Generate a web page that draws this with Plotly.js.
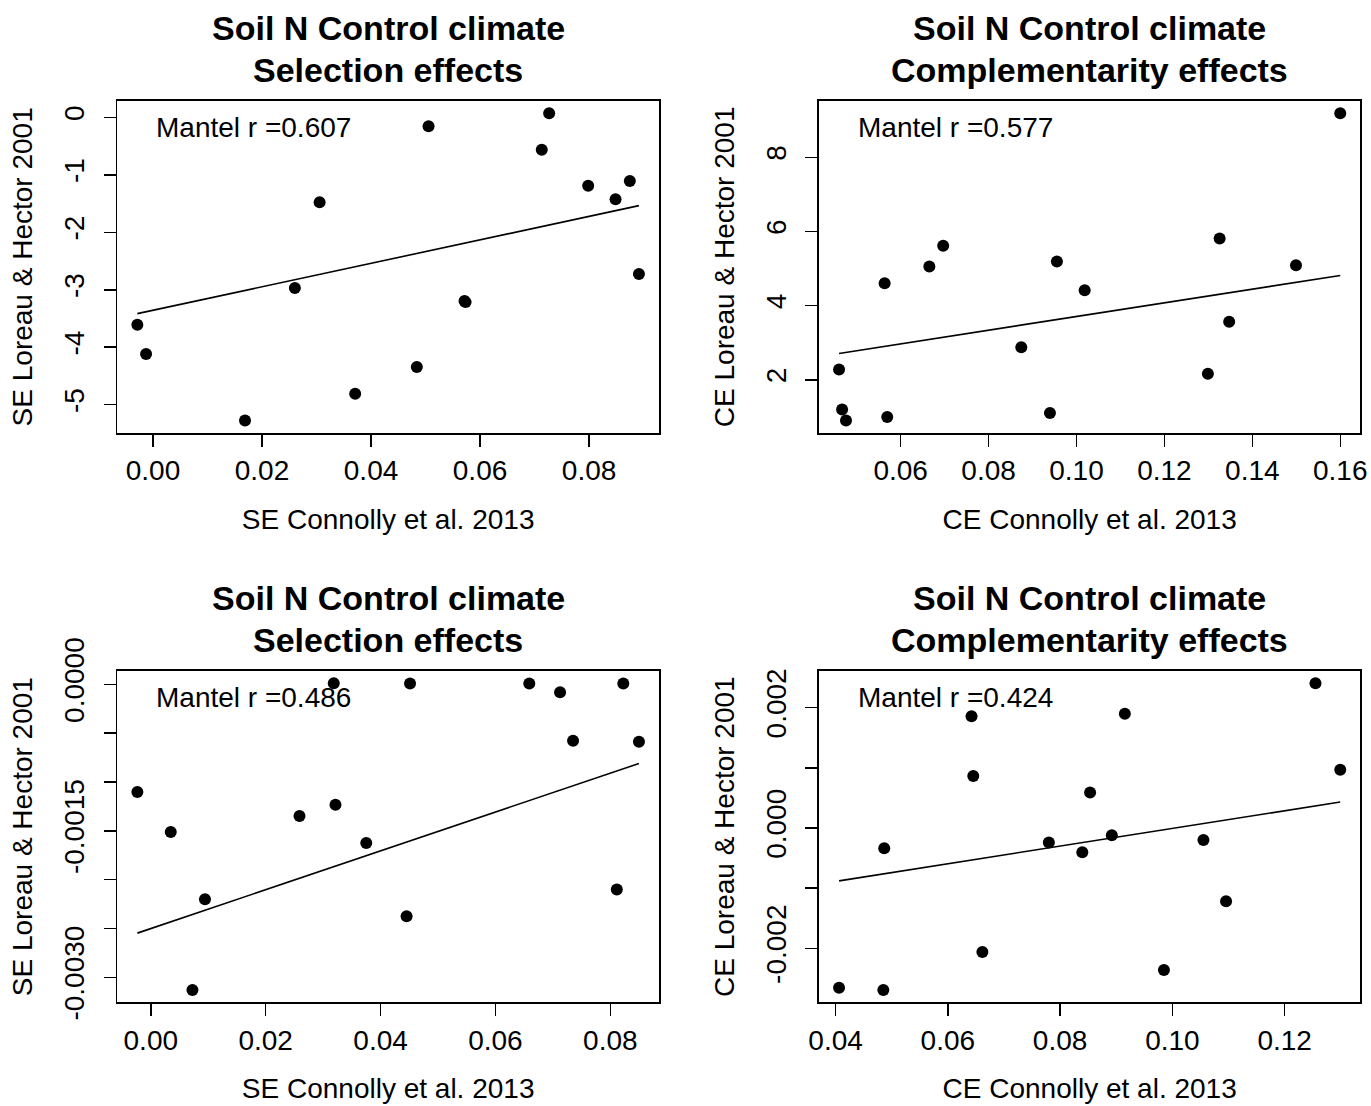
<!DOCTYPE html>
<html><head><meta charset="utf-8">
<script src="https://cdn.plot.ly/plotly-3.0.1.min.js"></script>
<style>html,body{margin:0;padding:0;background:#fff}#chart{width:1371px;height:1106px}</style>
</head><body><div id="chart"></div>
<script>
// ---- Data ----
// Panel 1: Selection effects (top-left)
const p1X = [-0.00287, -0.00127, 0.01688, 0.02603, 0.03057, 0.03709, 0.04840, 0.05055, 0.05715, 0.05735, 0.07132, 0.07268, 0.07984, 0.08486, 0.08748, 0.08915];
const p1Y = [-3.608, -4.118, -5.273, -2.970, -1.479, -4.809, -4.345, -0.157, -3.195, -3.215, -0.563, 0.070, -1.189, -1.427, -1.108, -2.726];
// Panel 2: Complementarity effects (top-right)
const p2X = [0.04598, 0.04667, 0.04756, 0.05635, 0.05694, 0.06652, 0.06967, 0.08744, 0.09396, 0.09554, 0.10186, 0.12989, 0.13256, 0.13473, 0.14993, 0.16000];
const p2Y = [2.278, 1.201, 0.904, 4.605, 0.994, 5.054, 5.611, 2.880, 1.102, 5.189, 4.416, 2.162, 5.808, 3.563, 5.090, 9.186];
// Panel 3: Selection effects (bottom-left)
const p3X = [-0.00234, 0.00347, 0.00725, 0.00943, 0.02589, 0.03185, 0.03215, 0.03751, 0.04453, 0.04513, 0.06589, 0.07125, 0.07351, 0.08113, 0.08226, 0.08498];
const p3Y = [-0.001104, -0.001512, -0.003130, -0.002200, -0.001349, 0.000010, -0.001233, -0.001625, -0.002374, 0.000008, 0.000008, -0.000082, -0.000579, -0.002101, 0.000008, -0.000589];
// Panel 4: Complementarity effects (bottom-right)
const p4X = [0.04062, 0.04851, 0.04867, 0.06422, 0.06453, 0.06615, 0.07799, 0.08395, 0.08534, 0.08921, 0.09153, 0.09849, 0.10553, 0.10956, 0.12549, 0.12990];
const p4Y = [-0.002652, -0.002691, -0.000337, 0.001856, 0.000862, -0.002061, -0.000243, -0.000403, 0.000591, -0.000122, 0.001895, -0.002359, -0.000199, -0.001215, 0.002403, 0.000967];

// Fitted lines (intercept, slope)
const fitIntercept = [-3.357, 1.863, -0.002501, -0.001474];
const fitSlope = [20.42, 18.43, 0.01989, 0.01466];
const mantelR = ['0.607', '0.577', '0.486', '0.424'];

// Titles and labels
const titleLine1 = ['Soil N Control climate', 'Soil N Control climate', 'Soil N Control climate', 'Soil N Control climate'];
const titleLine2 = ['Selection effects', 'Complementarity effects', 'Selection effects', 'Complementarity effects'];
const xTitles = ['SE Connolly et al. 2013', 'CE Connolly et al. 2013', 'SE Connolly et al. 2013', 'CE Connolly et al. 2013'];
const yTitles = ['SE Loreau & Hector 2001', 'CE Loreau & Hector 2001', 'SE Loreau & Hector 2001', 'CE Loreau & Hector 2001'];

// Tick values and labels
const p1XTicks = [0, 0.02, 0.04, 0.06, 0.08];
const p1XText = ['0.00', '0.02', '0.04', '0.06', '0.08'];
const p1YTicks = [-5, -4, -3, -2, -1, 0];
const p1YText = ['-5', '-4', '-3', '-2', '-1', '0'];
const p2XTicks = [0.06, 0.08, 0.10, 0.12, 0.14, 0.16];
const p2XText = ['0.06', '0.08', '0.10', '0.12', '0.14', '0.16'];
const p2YTicks = [2, 4, 6, 8];
const p2YText = ['2', '4', '6', '8'];
const p3XTicks = [0, 0.02, 0.04, 0.06, 0.08];
const p3XText = ['0.00', '0.02', '0.04', '0.06', '0.08'];
const p3YTicks = [-0.0030, -0.0025, -0.0020, -0.0015, -0.0010, -0.0005, 0];
const p3YText = ['-0.0030', '', '', '-0.0015', '', '', '0.0000'];
const p4XTicks = [0.04, 0.06, 0.08, 0.10, 0.12];
const p4XText = ['0.04', '0.06', '0.08', '0.10', '0.12'];
const p4YTicks = [-0.002, -0.001, 0, 0.001, 0.002];
const p4YText = ['-0.002', '', '0.000', '', '0.002'];

// ---- Build the figure ----
const FONT = 'Liberation Sans, Arial, Helvetica, sans-serif';
const W = 1371, H = 1106;
const xs = [p1X, p2X, p3X, p4X];
const ys = [p1Y, p2Y, p3Y, p4Y];
const xT = [[p1XTicks, p1XText], [p2XTicks, p2XText], [p3XTicks, p3XText], [p4XTicks, p4XText]];
const yT = [[p1YTicks, p1YText], [p2YTicks, p2YText], [p3YTicks, p3YText], [p4YTicks, p4YText]];

// panel boxes in pixels [left, right, top, bottom]
const boxes = [[117.3, 659, 101, 432.7], [819, 1360.3, 101, 432.7], [117.3, 659, 671, 1002.3], [819, 1360.3, 671, 1002.3]];

function rRange(a) { // R-style 4% extension
  const mn = Math.min(...a), mx = Math.max(...a), d = mx - mn;
  return [mn - 0.04 * d, mx + 0.04 * d];
}

const traces = [];
const layout = {
  width: W, height: H, margin: {l: 0, r: 0, t: 0, b: 0},
  paper_bgcolor: '#fff', plot_bgcolor: '#fff', showlegend: false,
  font: {family: FONT, size: 28, color: '#000'},
  annotations: []
};

for (let i = 0; i < 4; i++) {
  const n = i === 0 ? '' : String(i + 1);
  const xa = 'x' + n, ya = 'y' + n;
  traces.push({
    type: 'scatter', mode: 'markers', x: xs[i], y: ys[i], xaxis: xa, yaxis: ya,
    marker: {color: '#000', size: 12, line: {width: 0}}, hoverinfo: 'x+y'
  });
  const xmin = Math.min(...xs[i]), xmax = Math.max(...xs[i]);
  traces.push({
    type: 'scatter', mode: 'lines', x: [xmin, xmax],
    y: [fitIntercept[i] + fitSlope[i] * xmin, fitIntercept[i] + fitSlope[i] * xmax],
    xaxis: xa, yaxis: ya, line: {color: '#000', width: 1.6}, hoverinfo: 'skip'
  });
  const b = boxes[i];
  const common = {
    showgrid: false, zeroline: false, showline: true, mirror: true,
    linecolor: '#000', linewidth: 1.8, ticks: 'outside', ticklen: 12, tickwidth: 1.5, tickcolor: '#000',
    tickmode: 'array', tickfont: {family: FONT, size: 28, color: '#000'}, fixedrange: true
  };
  layout['xaxis' + n] = Object.assign({}, common, {
    domain: [b[0] / W, b[1] / W], anchor: ya, range: rRange(xs[i]),
    tickvals: xT[i][0], ticktext: xT[i][1], tickangle: 0, ticklabelstandoff: 0,
    title: {text: xTitles[i], font: {family: FONT, size: 28, color: '#000'}, standoff: 24}
  });
  layout['yaxis' + n] = Object.assign({}, common, {
    domain: [1 - b[3] / H, 1 - b[2] / H], anchor: xa, range: rRange(ys[i]),
    tickvals: yT[i][0], ticktext: yT[i][1], tickangle: -90, ticklabelstandoff: 8,
    title: {text: yTitles[i], font: {family: FONT, size: 28, color: '#000'}, standoff: 18}
  });
  const cx = (b[0] + b[1]) / 2 / W;
  layout.annotations.push({
    xref: 'paper', yref: 'paper', x: cx, y: 1 - (b[2] - 73) / H, xanchor: 'center', yanchor: 'middle',
    text: '<b>' + titleLine1[i] + '</b>', showarrow: false, font: {family: FONT, size: 34, color: '#000'}
  });
  layout.annotations.push({
    xref: 'paper', yref: 'paper', x: cx, y: 1 - (b[2] - 31) / H, xanchor: 'center', yanchor: 'middle',
    text: '<b>' + titleLine2[i] + '</b>', showarrow: false, font: {family: FONT, size: 34, color: '#000'}
  });
  layout.annotations.push({
    xref: xa + ' domain', yref: ya + ' domain', x: 0.068, y: 0.92, xanchor: 'left', yanchor: 'middle',
    text: 'Mantel r =' + mantelR[i], showarrow: false, font: {family: FONT, size: 28, color: '#000'}
  });
}

Plotly.newPlot('chart', traces, layout, {displayModeBar: false, staticPlot: true});
</script>
</body></html>
